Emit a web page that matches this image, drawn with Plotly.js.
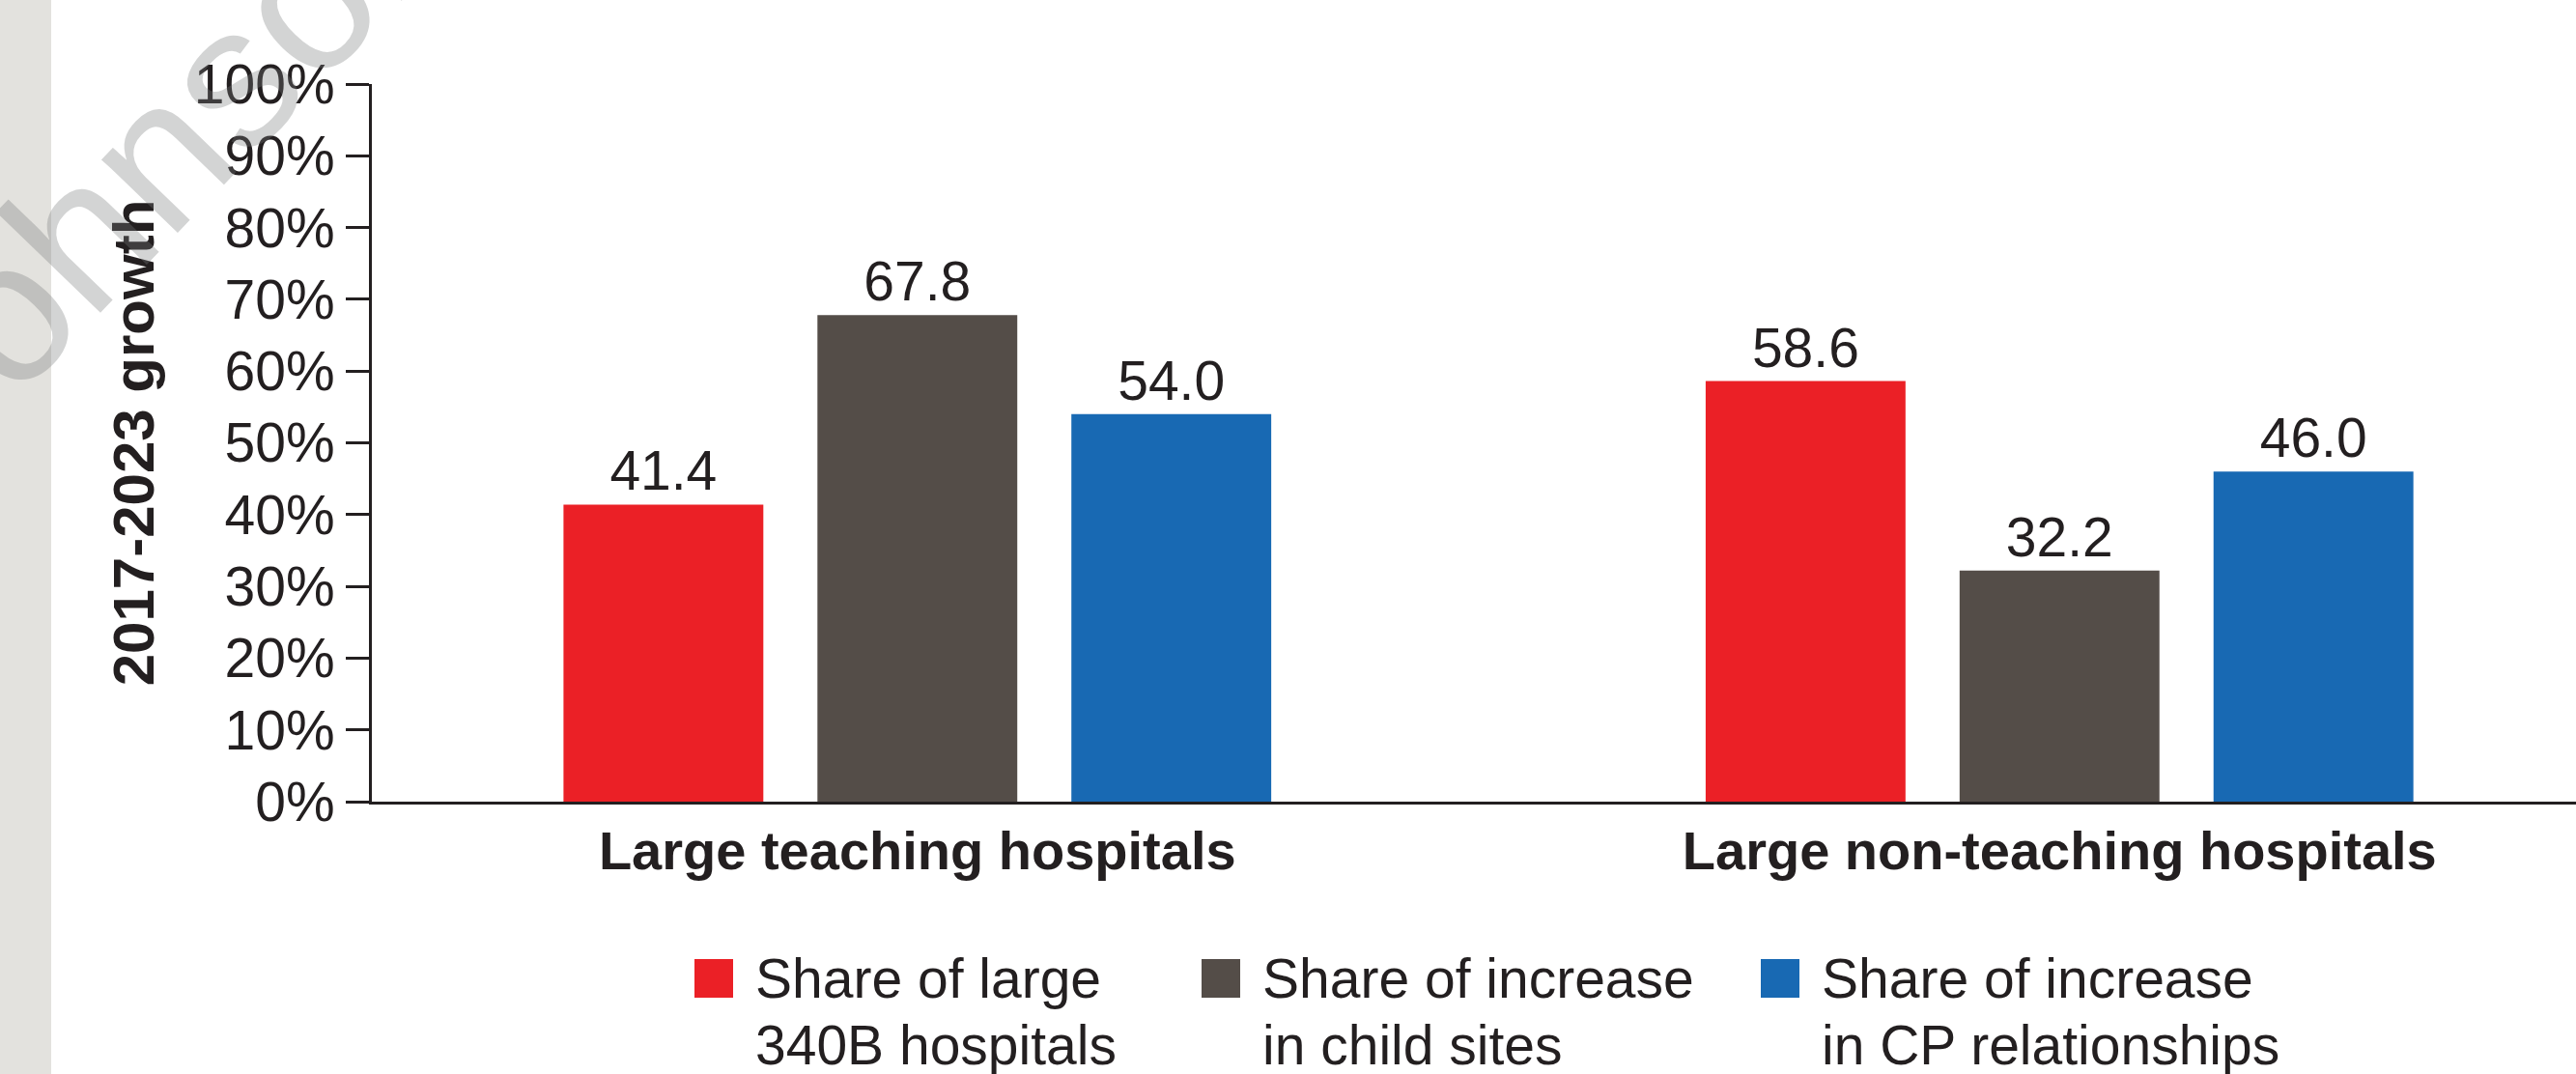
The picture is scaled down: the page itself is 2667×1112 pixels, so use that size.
<!DOCTYPE html>
<html>
<head>
<meta charset="utf-8">
<script src="https://cdn.plot.ly/plotly-3.0.1.min.js"></script>
<style>
  html, body { margin: 0; padding: 0; background: #ffffff; }
  #chart { width: 2667px; height: 1112px; }
</style>
</head>
<body>
<div id="chart"></div>
<script>
// ---- Data ----
const categories = ['Large teaching hospitals', 'Large non-teaching hospitals'];
const seriesNames = ['Share of large<br>340B hospitals', 'Share of increase<br>in child sites', 'Share of increase<br>in CP relationships'];
const share340B = [41.4, 58.6];
const shareChildSites = [67.8, 32.2];
const shareCPRelationships = [54.0, 46.0];
const yTickValues = [0, 10, 20, 30, 40, 50, 60, 70, 80, 90, 100];
const yTickLabels = ['0%', '10%', '20%', '30%', '40%', '50%', '60%', '70%', '80%', '90%', '100%'];
const yAxisTitle = '2017-2023 growth';
const watermarkText = 'Johnson';

// ---- Styles ----
const seriesValues = [share340B, shareChildSites, shareCPRelationships];
const seriesColors = ['#eb2026', '#544d48', '#1869b3'];
const ink = '#231f20';
const FONT = 'Liberation Sans, Arial, Helvetica, sans-serif';

const W = 2667, H = 1112;
const M = { l: 385, r: 0, t: 87, b: 282 };
const plotW = W - M.l - M.r, plotH = H - M.t - M.b;
const px2x = p => (p - M.l) / plotW;
const px2y = p => (H - M.b - p) / plotH;

const traces = seriesValues.map((vals, i) => ({
  type: 'bar',
  x: categories,
  y: vals,
  name: seriesNames[i],
  marker: { color: seriesColors[i] },
  text: vals.map(v => v.toFixed(1)),
  textposition: 'outside',
  textfont: { family: FONT, size: 57, color: ink },
  cliponaxis: false,
  showlegend: false,
  hoverinfo: 'skip'
}));

// custom legend (large square swatches)
const legendX = [719, 1244, 1823];
const shapes = [
  // grey strip at left edge
  { type: 'rect', xref: 'paper', yref: 'paper', x0: px2x(0), x1: px2x(53), y0: px2y(H + 5), y1: px2y(-5),
    fillcolor: '#e3e2de', line: { width: 0 }, layer: 'below' }
];
const annotations = [];
seriesNames.forEach((nm, i) => {
  shapes.push({ type: 'rect', xref: 'paper', yref: 'paper',
    x0: px2x(legendX[i]), x1: px2x(legendX[i] + 40), y0: px2y(1033), y1: px2y(993),
    fillcolor: seriesColors[i], line: { width: 0 } });
  const lines = nm.split('<br>');
  lines.forEach((ln, j) => {
    annotations.push({ xref: 'paper', yref: 'paper', x: px2x(legendX[i] + 61), y: px2y(1013 + j * 69),
      xanchor: 'left', yanchor: 'middle', text: ln, showarrow: false,
      font: { family: FONT, size: 57, color: ink } });
  });
});
// watermark
annotations.push({ xref: 'paper', yref: 'paper', x: px2x(162), y: px2y(160), xanchor: 'center', yanchor: 'middle',
  text: watermarkText, showarrow: false, textangle: -46,
  font: { family: FONT, size: 207, color: 'rgba(120,125,125,0.33)' } });

const layout = {
  width: W, height: H,
  margin: M,
  paper_bgcolor: '#ffffff',
  plot_bgcolor: 'rgba(0,0,0,0)',
  barmode: 'group',
  bargap: 0.333,
  bargroupgap: 0.213,
  showlegend: false,
  xaxis: {
    type: 'category',
    range: [-0.4776, 1.4522],
    showline: true, linewidth: 3, linecolor: ink,
    ticks: '', showgrid: false, zeroline: false,
    tickfont: { family: FONT, size: 56, color: ink, weight: 'bold' },
    fixedrange: true
  },
  yaxis: {
    range: [0, 100],
    tickvals: yTickValues, ticktext: yTickLabels,
    showline: true, linewidth: 3, linecolor: ink,
    ticks: 'outside', ticklen: 24, tickwidth: 3, tickcolor: ink,
    showgrid: false, zeroline: false,
    tickfont: { family: FONT, size: 57, color: ink },
    title: { text: yAxisTitle, font: { family: FONT, size: 60, color: ink, weight: 'bold' }, standoff: 22 },
    fixedrange: true
  },
  shapes: shapes,
  annotations: annotations
};

Plotly.newPlot('chart', traces, layout, { displayModeBar: false, staticPlot: true });
</script>
</body>
</html>
